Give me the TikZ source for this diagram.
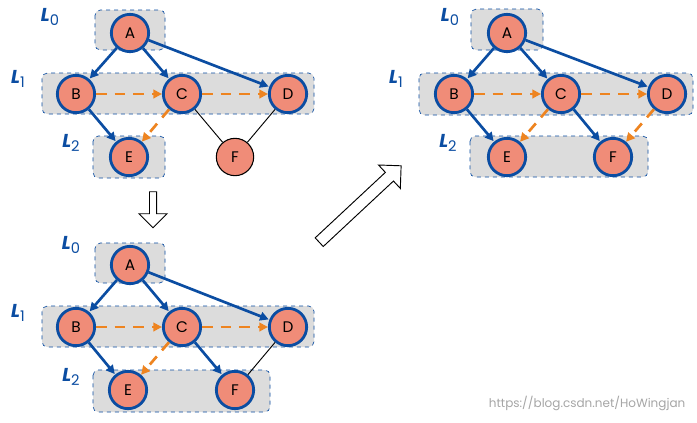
\documentclass[tikz,border=0pt]{standalone}
\usepackage{fontspec}
\setmainfont{Poppins}
\usetikzlibrary{arrows.meta,shapes.arrows}
\definecolor{bl}{HTML}{0B4DA2}
\definecolor{sal}{HTML}{F08C78}
\definecolor{org}{HTML}{EE8420}
\definecolor{bx}{HTML}{DCDCDC}
\tikzset{
 v/.style={circle,draw=bl,line width=2.1pt,fill=sal,minimum size=28pt,inner sep=0pt,font=\fontsize{11.5}{11.5}\selectfont},
 vf/.style={v,draw=black,line width=0.8pt},
 lay/.style={draw=bl,dashed,fill=bx,rounded corners=4pt,line width=0.5pt},
 ed/.style={draw=bl,line width=2pt,-{Triangle[length=6.5pt,width=6.5pt]},shorten >=0.5pt},
 od/.style={draw=org,line width=2pt,dash pattern=on 8pt off 6pt,-{Triangle[length=6.5pt,width=6.5pt]}},
 pl/.style={draw=black,line width=0.7pt},
 lb/.style={text=bl,font=\fontsize{14}{14}\selectfont}
}
\newcommand{\Lab}[1]{\textit{\textbf{L}}\raisebox{-0.35ex}{\fontsize{11}{11}\selectfont #1}}
\begin{document}
\begin{tikzpicture}[x=0.75pt,y=-0.75pt]
\path[use as bounding box,fill=white] (0,0) rectangle (697,422);
% top-left
\draw[lay] (95,10) rectangle (165,50);
\draw[lay] (42,73) rectangle (314,114);
\draw[lay] (93,136) rectangle (165,178);
\node[lb] (l0a) at (50,17) {\Lab{0}};
\node[lb] (l1a) at (18,79) {\Lab{1}};
\node[lb] (l2a) at (71,143) {\Lab{2}};
\node[v] (A1) at (130,33) {A};
\node[v] (B1) at (76,94) {B};
\node[v] (C1) at (182,94) {C};
\node[v] (D1) at (288,94) {D};
\node[v] (E1) at (129,157) {E};
\node[vf] (F1) at (235,157) {F};
\draw[ed] (A1)--(B1); \draw[ed] (A1)--(C1); \draw[ed] (A1)--(D1); \draw[ed] (B1)--(E1);
\draw[od] (B1)--(C1); \draw[od] (C1)--(D1); \draw[od] (C1)--(E1);
\draw[pl] (C1)--(F1); \draw[pl] (D1)--(F1);
% right
\draw[lay] (471,9) rectangle (543,50);
\draw[lay] (419,73) rectangle (693,115);
\draw[lay] (470,136) rectangle (648,177);
\node[lb] (l0b) at (450,17) {\Lab{0}};
\node[lb] (l1b) at (396,79) {\Lab{1}};
\node[lb] (l2b) at (448,143) {\Lab{2}};
\node[v] (A2) at (507,33) {A};
\node[v] (B2) at (454,94) {B};
\node[v] (C2) at (561,94) {C};
\node[v] (D2) at (667,94) {D};
\node[v] (E2) at (507,157) {E};
\node[v] (F2) at (613,157) {F};
\draw[ed] (A2)--(B2); \draw[ed] (A2)--(C2); \draw[ed] (A2)--(D2); \draw[ed] (B2)--(E2); \draw[ed] (C2)--(F2);
\draw[od] (B2)--(C2); \draw[od] (C2)--(D2); \draw[od] (C2)--(E2); \draw[od] (D2)--(F2);
% bottom
\draw[lay] (95,243) rectangle (165,283);
\draw[lay] (42,306) rectangle (314,347);
\draw[lay] (93,370) rectangle (270,412);
\node[lb] (l0c) at (71,245) {\Lab{0}};
\node[lb] (l1c) at (18,313) {\Lab{1}};
\node[lb] (l2c) at (71,377) {\Lab{2}};
\node[v] (A3) at (130,265) {A};
\node[v] (B3) at (76,327) {B};
\node[v] (C3) at (182,327) {C};
\node[v] (D3) at (288,327) {D};
\node[v] (E3) at (128,390) {E};
\node[v] (F3) at (235,390) {F};
\draw[ed] (A3)--(B3); \draw[ed] (A3)--(C3); \draw[ed] (A3)--(D3); \draw[ed] (B3)--(E3); \draw[ed] (C3)--(F3);
\draw[od] (B3)--(C3); \draw[od] (C3)--(D3); \draw[od] (C3)--(E3);
\draw[pl] (D3)--(F3);
% big arrows
\node[single arrow,draw=black,fill=white,line width=0.7pt,rotate=-90,minimum height=27pt,minimum width=21pt,single arrow head extend=4pt,inner sep=1pt] (dn) at (153,208) {};
\node[single arrow,draw=black,fill=white,line width=0.7pt,rotate=43,minimum height=84pt,minimum width=24pt,single arrow head extend=4pt,inner sep=2pt] (dg) at (358,206) {};
\node[text=gray!70,font=\fontsize{9}{9}\selectfont,anchor=east] (wm) at (690,403) {https://blog.csdn.net/HoWingjan};
\end{tikzpicture}
\end{document}
